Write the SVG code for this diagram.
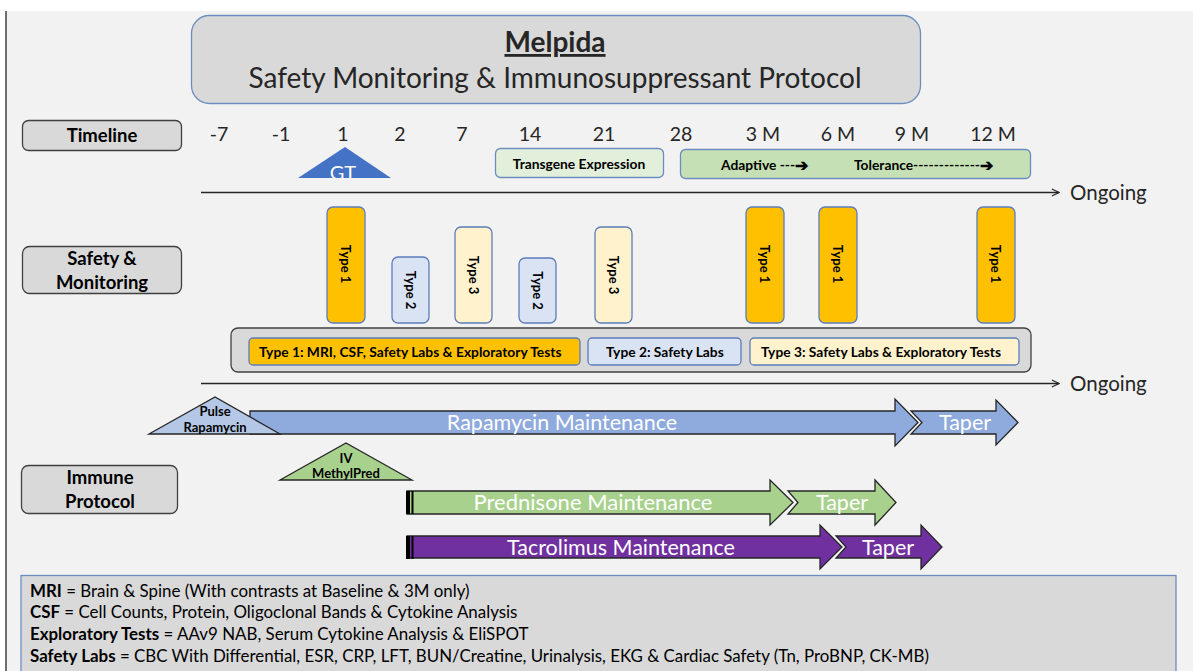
<svg xmlns="http://www.w3.org/2000/svg" width="1193" height="671" viewBox="0 0 1193 671">
<defs>
<style>
text{font-family:Lato,"Open Sans","Liberation Sans",sans-serif;fill:#262626}
.lbl{fill:#d9d9d9;stroke:#404040;stroke-width:1.3}
.lt{font-size:18.5px;font-weight:bold;text-anchor:middle;fill:#000}
.num{font-size:19.5px;text-anchor:middle}
.typ{stroke:#5b7dba;stroke-width:1.3}
.t1{fill:#ffc000}.t2{fill:#dae3f3}.t3{fill:#fff2cc}
.vt{font-size:13px;font-weight:bold;text-anchor:middle;dominant-baseline:central;fill:#000}
.lg{font-size:13.8px;font-weight:bold;dominant-baseline:central;fill:#000}
.arr{stroke:#262626;stroke-width:1.3}
.wt{fill:#fff;font-size:21.5px;text-anchor:middle}
.tri{font-size:13px;font-weight:bold;text-anchor:middle;fill:#000}
.leg{font-size:16.9px;fill:#000}
.axis{stroke:#262626;stroke-width:1.5;fill:none}
</style>
<marker id="oa" viewBox="0 0 10 10" refX="9" refY="5" markerWidth="9" markerHeight="9" markerUnits="userSpaceOnUse" orient="auto"><path d="M1,1 L9,5 L1,9" fill="none" stroke="#262626" stroke-width="1.3"/></marker>
<clipPath id="gtc"><polygon points="298,178 345,147 391,178"/></clipPath>
</defs>
<rect x="0" y="0" width="1193" height="671" fill="#ffffff"/>
<rect x="6" y="11" width="1187" height="660" fill="#f2f2f2"/>
<line x1="6" y1="11" x2="6" y2="671" stroke="#404040" stroke-width="1.5"/>

<g id="title">
<rect x="191.5" y="15.5" width="729" height="88" rx="18" fill="#d9d9d9" stroke="#6c8ebf" stroke-width="1.3"/>
<text x="555" y="52" font-size="28" font-weight="bold" text-anchor="middle" text-decoration="underline">Melpida</text>
<text x="555" y="88" font-size="28" text-anchor="middle">Safety Monitoring &amp; Immunosuppressant Protocol</text>
</g>

<g id="timeline-label"><rect class="lbl" x="22.5" y="120.5" width="159" height="30" rx="6"/><text class="lt" x="102" y="142">Timeline</text></g>
<g id="safety-label"><rect class="lbl" x="22.5" y="246.5" width="159" height="47" rx="7"/><text class="lt" x="102" y="265">Safety &amp;</text><text class="lt" x="102" y="289">Monitoring</text></g>
<g id="immune-label"><rect class="lbl" x="21.5" y="465.5" width="156" height="48" rx="7"/><text class="lt" x="100" y="484">Immune</text><text class="lt" x="100" y="508">Protocol</text></g>

<g id="timeline-numbers">
<text class="num" x="219" y="141">-7</text>
<text class="num" x="281" y="141">-1</text>
<text class="num" x="343" y="141">1</text>
<text class="num" x="400" y="141">2</text>
<text class="num" x="462" y="141">7</text>
<text class="num" x="530" y="141">14</text>
<text class="num" x="604" y="141">21</text>
<text class="num" x="681" y="141">28</text>
<text class="num" x="763" y="141">3 M</text>
<text class="num" x="838" y="141">6 M</text>
<text class="num" x="912" y="141">9 M</text>
<text class="num" x="993" y="141">12 M</text>
</g>

<g id="gt">
<polygon points="298,178 345,147 391,178" fill="#4472c4"/>
<text x="343" y="180" font-size="20" text-anchor="middle" clip-path="url(#gtc)" style="fill:#fff">GT</text>
</g>
<g id="transgene">
<rect x="495.5" y="148.5" width="168" height="29" rx="5" fill="#e2efda" stroke="#6c8ebf" stroke-width="1.3"/>
<text x="579" y="163" font-size="13.8" font-weight="bold" text-anchor="middle" dominant-baseline="central" style="fill:#000">Transgene Expression</text>
</g>
<g id="adaptive">
<rect x="680.5" y="149.5" width="350" height="29" rx="5" fill="#c5e0b4" stroke="#6c8ebf" stroke-width="1.3"/>
<text x="721" y="164" font-size="13.8" font-weight="bold" dominant-baseline="central" style="fill:#000">Adaptive ---<tspan font-size="16">➔</tspan></text>
<text x="854" y="164" font-size="13.8" font-weight="bold" dominant-baseline="central" style="fill:#000">Tolerance-------------<tspan font-size="16">➔</tspan></text>
</g>

<g id="connectors">
<line class="axis" x1="201" y1="192.5" x2="1059" y2="192.5" marker-end="url(#oa)"/>
<line class="axis" x1="201" y1="383.5" x2="1059" y2="383.5" marker-end="url(#oa)"/>
</g>
<text x="1070" y="200" font-size="20.5">Ongoing</text>
<text x="1070" y="391" font-size="20.5">Ongoing</text>

<g id="visits">
<rect class="typ t1" x="327" y="207" width="38" height="116" rx="6"/><text class="vt" transform="translate(346,264) rotate(90)">Type 1</text>
<rect class="typ t2" x="392" y="257" width="37" height="66" rx="6"/><text class="vt" transform="translate(410.5,290) rotate(90)">Type 2</text>
<rect class="typ t3" x="455" y="227" width="37" height="96" rx="6"/><text class="vt" transform="translate(473.5,275) rotate(90)">Type 3</text>
<rect class="typ t2" x="519" y="258" width="37" height="65" rx="6"/><text class="vt" transform="translate(537.5,290.5) rotate(90)">Type 2</text>
<rect class="typ t3" x="595" y="227" width="37" height="96" rx="6"/><text class="vt" transform="translate(613.5,275) rotate(90)">Type 3</text>
<rect class="typ t1" x="746" y="207" width="38" height="116" rx="6"/><text class="vt" transform="translate(765,264) rotate(90)">Type 1</text>
<rect class="typ t1" x="819" y="207" width="38" height="116" rx="6"/><text class="vt" transform="translate(838,264) rotate(90)">Type 1</text>
<rect class="typ t1" x="977" y="207" width="38" height="116" rx="6"/><text class="vt" transform="translate(996,264) rotate(90)">Type 1</text>
</g>

<g id="type-legend">
<rect x="231" y="328" width="800" height="44" rx="7" fill="#d9d9d9" stroke="#404040" stroke-width="1.3"/>
<rect class="typ t1" x="249" y="338" width="331" height="27" rx="4"/>
<text class="lg" x="259" y="351.5">Type 1: MRI, CSF, Safety Labs &amp; Exploratory Tests</text>
<rect class="typ t2" x="588" y="338" width="153" height="27" rx="4"/>
<text class="lg" x="606" y="351.5">Type 2: Safety Labs</text>
<rect class="typ t3" x="750" y="338" width="269" height="27" rx="4"/>
<text class="lg" x="761" y="351.5">Type 3: Safety Labs &amp; Exploratory Tests</text>
</g>

<g id="rapamycin">
<path class="arr" d="M250,411 H895 V399 L918,422.5 L895,446 V434 H250 Z" fill="#8faadc"/>
<path class="arr" d="M911,411 H996 V400 L1018,422.5 L996,445 V434 H911 L922,422.5 Z" fill="#8faadc"/>
<text class="wt" x="562" y="430" style="fill:#fff">Rapamycin Maintenance</text>
<text class="wt" x="965" y="430" style="fill:#fff">Taper</text>
</g>
<g id="pulse-rapamycin">
<polygon class="arr" points="149,434 215,397 280,434" fill="#b4c7e7"/>
<text class="tri" x="215" y="416">Pulse</text>
<text class="tri" x="215" y="432">Rapamycin</text>
</g>
<g id="iv-methylpred">
<polygon class="arr" points="280,480 346,443 412,480" fill="#a9d18e"/>
<text class="tri" x="346" y="463">IV</text>
<text class="tri" x="346" y="478">MethylPred</text>
</g>
<g id="prednisone">
<path class="arr" d="M407,491 H770 V480 L793,502.5 L770,525 V514 H407 Z" fill="#a9d18e"/>
<path class="arr" d="M788,491 H875 V480 L896,502.5 L875,525 V514 H788 L798,502.5 Z" fill="#a9d18e"/>
<rect x="406" y="491" width="4" height="23" fill="#000"/><rect x="411.5" y="491" width="2" height="23" fill="#000"/>
<text class="wt" x="593" y="510" style="fill:#fff;font-size:22px">Prednisone Maintenance</text>
<text class="wt" x="842" y="510" style="fill:#fff">Taper</text>
</g>
<g id="tacrolimus">
<path class="arr" d="M407,536 H820 V525 L842,547 L820,569 V558 H407 Z" fill="#7030a0"/>
<path class="arr" d="M836,536 H921 V525 L942,547 L921,569 V558 H836 L846,547 Z" fill="#7030a0"/>
<rect x="406" y="536" width="4" height="23" fill="#000"/><rect x="411.5" y="536" width="2" height="23" fill="#000"/>
<text class="wt" x="621" y="555" style="fill:#fff">Tacrolimus Maintenance</text>
<text class="wt" x="888" y="555" style="fill:#fff">Taper</text>
</g>

<g id="definitions">
<rect x="21" y="575.5" width="1155" height="110" fill="#d9d9d9" stroke="#6c8ebf" stroke-width="1.3"/>
<text class="leg" x="30" y="597"><tspan font-weight="bold">MRI</tspan> = Brain &amp; Spine (With contrasts at Baseline &amp; 3M only)</text>
<text class="leg" x="30" y="618"><tspan font-weight="bold">CSF</tspan> = Cell Counts, Protein, Oligoclonal Bands &amp; Cytokine Analysis</text>
<text class="leg" x="30" y="640"><tspan font-weight="bold">Exploratory Tests</tspan> = AAv9 NAB, Serum Cytokine Analysis &amp; EliSPOT</text>
<text class="leg" x="30" y="662"><tspan font-weight="bold">Safety Labs</tspan> = CBC With Differential, ESR, CRP, LFT, BUN/Creatine, Urinalysis, EKG &amp; Cardiac Safety (Tn, ProBNP, CK-MB)</text>
</g>
</svg>
